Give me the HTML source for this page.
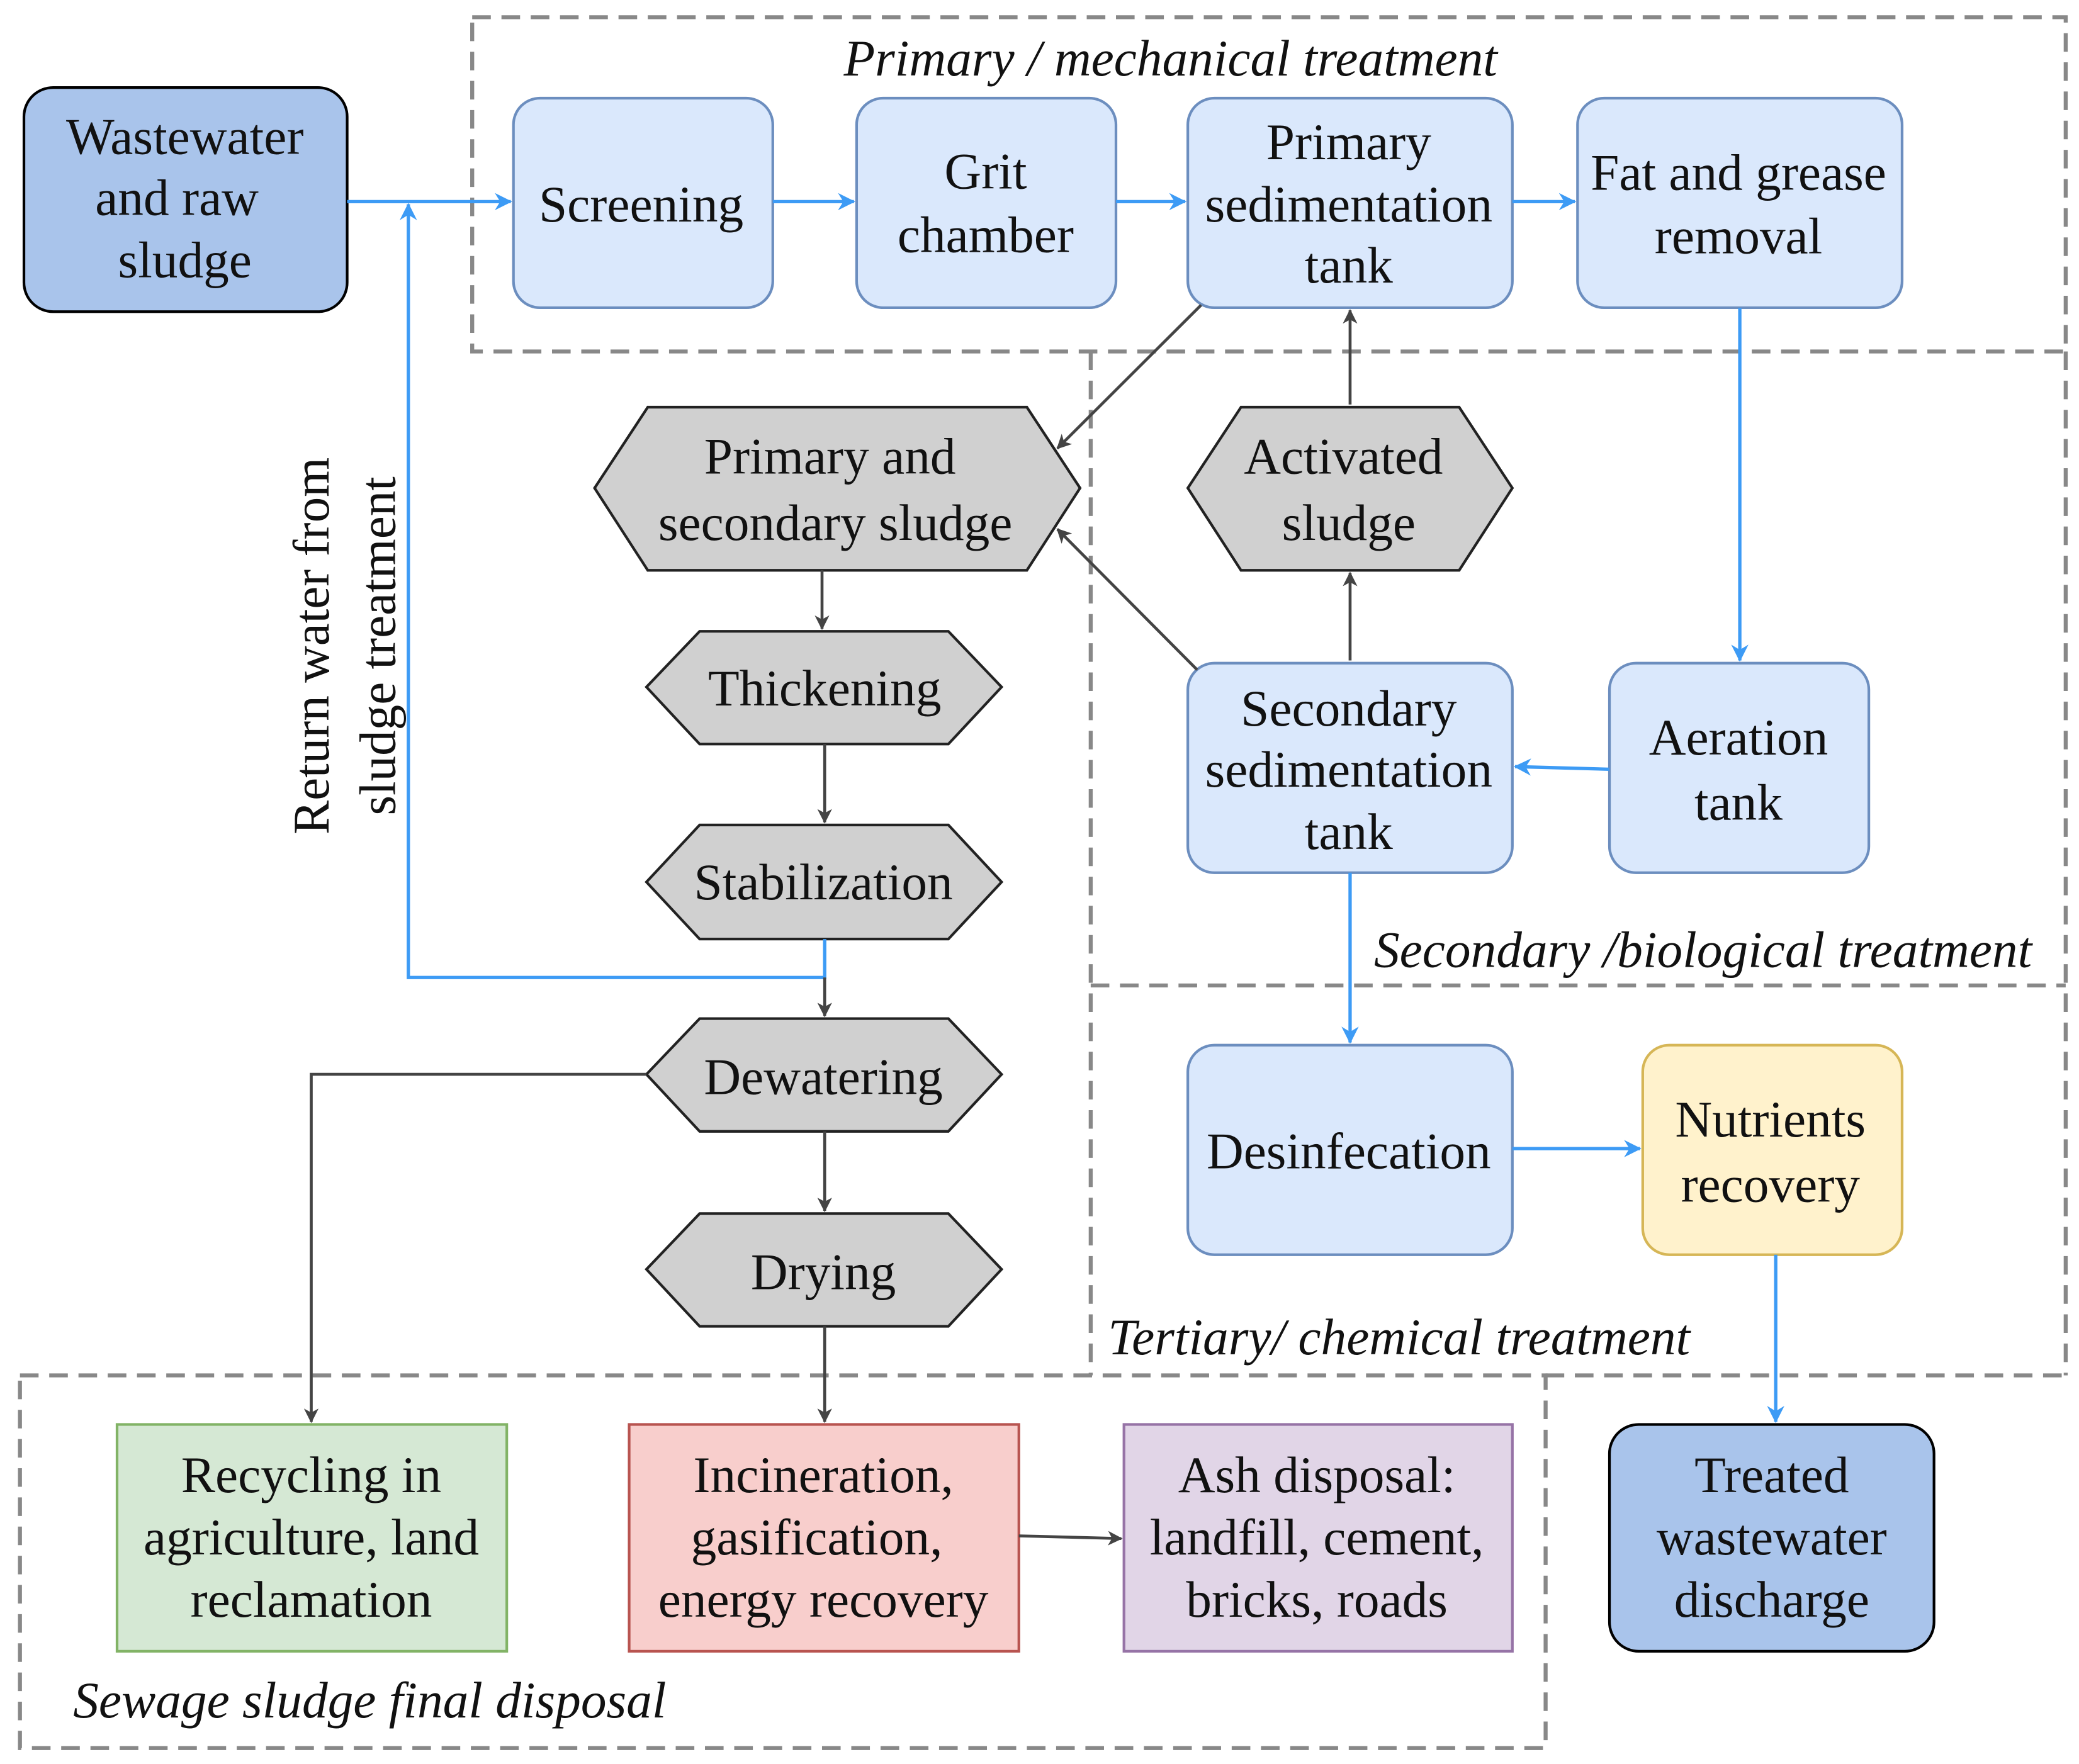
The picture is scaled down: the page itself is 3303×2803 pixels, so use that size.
<!DOCTYPE html>
<html><head><meta charset="utf-8"><style>
html,body{margin:0;padding:0;background:#fff}
svg{display:block}
text{font-family:"Liberation Serif",serif;font-size:38.5px;fill:#111}
.it{font-style:italic;font-size:38.5px}
</style></head><body>
<svg width="3303" height="2803" viewBox="0 0 1563 1330" preserveAspectRatio="none" xmlns="http://www.w3.org/2000/svg">
<defs>
<marker id="ab" markerWidth="13" markerHeight="13" refX="12" refY="6.5" orient="auto" markerUnits="userSpaceOnUse" viewBox="0 0 13 13"><path d="M0,0 L13,6.5 L0,13 L4,6.5 z" fill="#3d9bf5"/></marker>
<marker id="ag" markerWidth="11" markerHeight="11" refX="10" refY="5.5" orient="auto" markerUnits="userSpaceOnUse" viewBox="0 0 11 11"><path d="M0,0 L11,5.5 L0,11 L3,5.5 z" fill="#444"/></marker>
</defs>
<g stroke="#888" stroke-width="3" stroke-dasharray="14 8" fill="none">
<rect x="355" y="13" width="1198" height="252"/>
<line x1="820" y1="265" x2="820" y2="1037"/>
<line x1="820" y1="743" x2="1553" y2="743"/>
<line x1="1553" y1="265" x2="1553" y2="1037"/>
<line x1="1162" y1="1037" x2="1553" y2="1037"/>
<rect x="15" y="1037" width="1147" height="281"/>
</g>
<g stroke-width="2">
<rect x="18" y="66" width="243" height="169" rx="22" fill="#a9c4eb" stroke="#000"/>
<rect x="386" y="74" width="195" height="158" rx="20" fill="#dae8fc" stroke="#6c8ebf"/>
<rect x="644" y="74" width="195" height="158" rx="20" fill="#dae8fc" stroke="#6c8ebf"/>
<rect x="893" y="74" width="244" height="158" rx="20" fill="#dae8fc" stroke="#6c8ebf"/>
<rect x="1186" y="74" width="244" height="158" rx="20" fill="#dae8fc" stroke="#6c8ebf"/>
<rect x="893" y="500" width="244" height="158" rx="20" fill="#dae8fc" stroke="#6c8ebf"/>
<rect x="1210" y="500" width="195" height="158" rx="20" fill="#dae8fc" stroke="#6c8ebf"/>
<rect x="893" y="788" width="244" height="158" rx="20" fill="#dae8fc" stroke="#6c8ebf"/>
<rect x="1235" y="788" width="195" height="158" rx="20" fill="#fff2cc" stroke="#d6b656"/>
<rect x="1210" y="1074" width="244" height="171" rx="22" fill="#a9c4eb" stroke="#000"/>
<rect x="88" y="1074" width="293" height="171" fill="#d5e8d4" stroke="#82b366"/>
<rect x="473" y="1074" width="293" height="171" fill="#f8cecc" stroke="#b85450"/>
<rect x="845" y="1074" width="292" height="171" fill="#e1d5e7" stroke="#9673a6"/>
<g fill="#d0d0d0" stroke="#222">
<polygon points="487,307 772,307 812,368 772,430 487,430 447,368"/>
<polygon points="933,307 1097,307 1137,368 1097,430 933,430 893,368"/>
<polygon points="526,476 713,476 753,518 713,561 526,561 486,518"/>
<polygon points="526,622 713,622 753,665 713,708 526,708 486,665"/>
<polygon points="526,768 713,768 753,810 713,853 526,853 486,810"/>
<polygon points="526,915 713,915 753,957 713,1000 526,1000 486,957"/>
</g>
</g>
<g stroke="#3d9bf5" stroke-width="2.5" fill="none" marker-end="url(#ab)">
<line x1="261" y1="152" x2="384" y2="152"/>
<line x1="581" y1="152" x2="642" y2="152"/>
<line x1="839" y1="152" x2="891" y2="152"/>
<line x1="1137" y1="152" x2="1184" y2="152"/>
<line x1="1308" y1="232" x2="1308" y2="498"/>
<line x1="1210" y1="580" x2="1139" y2="578"/>
<line x1="1015" y1="658" x2="1015" y2="786"/>
<line x1="1137" y1="866" x2="1233" y2="866"/>
<line x1="1335" y1="946" x2="1335" y2="1072"/>
<polyline points="620,708 620,737 307,737 307,154"/>
</g>
<g stroke="#444" stroke-width="2.2" fill="none" marker-end="url(#ag)">
<line x1="903" y1="230" x2="795" y2="338"/>
<line x1="1015" y1="305" x2="1015" y2="234"/>
<line x1="1015" y1="498" x2="1015" y2="432"/>
<line x1="900" y1="505" x2="795" y2="399"/>
<line x1="618" y1="430" x2="618" y2="474"/>
<line x1="620" y1="561" x2="620" y2="620"/>
<line x1="620" y1="737" x2="620" y2="766"/>
<line x1="620" y1="853" x2="620" y2="913"/>
<line x1="620" y1="1000" x2="620" y2="1072"/>
<polyline points="486,810 234,810 234,1072"/>
<line x1="766" y1="1158" x2="843" y2="1160"/>
</g>
<g text-anchor="middle">
<text x="139" y="116">Wastewater</text><text x="133" y="162">and raw</text><text x="139" y="209">sludge</text>
<text x="482" y="167">Screening</text>
<text x="741" y="142">Grit</text><text x="741" y="190">chamber</text>
<text x="1014" y="120">Primary</text><text x="1014" y="167">sedimentation</text><text x="1014" y="213">tank</text>
<text x="1307" y="143">Fat and grease</text><text x="1307" y="191">removal</text>
<text x="624" y="357">Primary and</text><text x="628" y="407">secondary sludge</text>
<text x="1010" y="357">Activated</text><text x="1014" y="407">sludge</text>
<text x="620" y="532">Thickening</text>
<text x="619" y="678">Stabilization</text>
<text x="619" y="825">Dewatering</text>
<text x="619" y="972">Drying</text>
<text x="1014" y="547">Secondary</text><text x="1014" y="593">sedimentation</text><text x="1014" y="640">tank</text>
<text x="1307" y="569">Aeration</text><text x="1307" y="618">tank</text>
<text x="1014" y="881">Desinfecation</text>
<text x="1331" y="857">Nutrients</text><text x="1331" y="906">recovery</text>
<text x="1332" y="1125">Treated</text><text x="1332" y="1172">wastewater</text><text x="1332" y="1219">discharge</text>
<text x="234" y="1125">Recycling in</text><text x="234" y="1172">agriculture, land</text><text x="234" y="1219">reclamation</text>
<text x="619" y="1125">Incineration,</text><text x="614" y="1172">gasification,</text><text x="619" y="1219">energy recovery</text>
<text x="990" y="1125">Ash disposal:</text><text x="990" y="1172">landfill, cement,</text><text x="990" y="1219">bricks, roads</text>
<text class="it" x="880" y="57">Primary / mechanical treatment</text>
</g>
<text class="it" x="1033" y="729">Secondary /biological treatment</text>
<text class="it" x="833" y="1021">Tertiary/ chemical treatment</text>
<text class="it" x="55" y="1295">Sewage sludge final disposal</text>
<text text-anchor="middle" transform="translate(247,487) rotate(-90)">Return water from</text>
<text text-anchor="middle" transform="translate(297,487) rotate(-90)">sludge treatment</text>
</svg>
</body></html>
